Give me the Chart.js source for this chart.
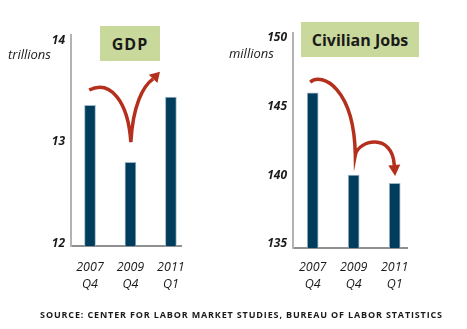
<!DOCTYPE html>
<html>
<head>
<meta charset="utf-8">
<script src="https://cdn.jsdelivr.net/npm/chart.js@4/dist/chart.umd.min.js"></script>
<style>
  html, body { margin: 0; padding: 0; background: #fff; }
  .page { position: relative; width: 467px; height: 329px; overflow: hidden; font-family: "Open Sans", sans-serif; color: #1a1a1a; }
  canvas { position: absolute; top: 0; }
  #gdpChart { left: 0; }
  #jobsChart { left: 233px; }
  .title-box { position: absolute; background: #c9d99b; font-weight: bold; font-size: 16px; display: flex; align-items: center; justify-content: center; z-index: 2; }
  .unit { position: absolute; font-style: italic; font-size: 13px; z-index: 2; }
  .source { position: absolute; left: 8px; width: 467px; top: 308px; text-align: center; font-size: 9px; font-weight: bold; letter-spacing: 0.85px; }
</style>
</head>
<body>
<div class="page">
  <canvas id="gdpChart" width="233" height="329"></canvas>
  <canvas id="jobsChart" width="234" height="329"></canvas>
  <div class="title-box" style="left:100px;top:26px;width:60px;height:35px;letter-spacing:1px;">GDP</div>
  <div class="title-box" style="left:301px;top:22px;width:118px;height:35px;">Civilian Jobs</div>
  <div class="unit" style="left:8px;top:45px;">trillions</div>
  <div class="unit" style="left:229px;top:44px;">millions</div>
  <div class="source">SOURCE: CENTER FOR LABOR MARKET STUDIES, BUREAU OF LABOR STATISTICS</div>
</div>
<script>
const periods = [["2007", "Q4"], ["2009", "Q4"], ["2011", "Q1"]];
const gdpValues = [13.36, 12.80, 13.44];
const jobsValues = [146.0, 140.0, 139.4];
const gdpTicks = [12, 13, 14];
const jobsTicks = [135, 140, 145, 150];

// arrow paths in data units: start, c1, c2, mid, c3, c4, head base, head tip
const gdpArrow = [[-0.02, 13.51], [0.49, 13.61], [0.94, 13.41], [1.01, 13.0], [1.06, 13.36], [1.31, 13.55], [1.56, 13.62], [1.73, 13.69]];
const jobsArrow = [[-0.06, 146.78], [0.23, 147.51], [1.01, 146.35], [1.04, 141.47], [1.11, 142.56], [1.94, 143.14], [1.99, 140.74], [2.01, 139.94]];

const barColor = "#003d5c";
const arrowColor = "#b5301c";
const fontFamily = "'Open Sans', sans-serif";

function makeArrowPlugin(points) {
  return {
    id: "arrow",
    afterDatasetsDraw(chart) {
      const xs = chart.scales.x;
      const ys = chart.scales.y;
      const p = points.map(([x, y]) => [xs.getPixelForValue(x), ys.getPixelForValue(y)]);
      const ctx = chart.ctx;
      ctx.save();
      ctx.strokeStyle = arrowColor;
      ctx.fillStyle = arrowColor;
      ctx.lineWidth = 3.5;
      ctx.lineCap = "butt";
      ctx.beginPath();
      ctx.moveTo(p[0][0], p[0][1]);
      ctx.bezierCurveTo(p[1][0], p[1][1], p[2][0], p[2][1], p[3][0], p[3][1]);
      ctx.bezierCurveTo(p[4][0], p[4][1], p[5][0], p[5][1], p[6][0], p[6][1]);
      ctx.stroke();

      // arrow head
      const base = p[6];
      const tip = p[7];
      const dx = tip[0] - base[0];
      const dy = tip[1] - base[1];
      const len = Math.hypot(dx, dy);
      const nx = -dy / len;
      const ny = dx / len;
      const half = 6;
      ctx.beginPath();
      ctx.moveTo(tip[0], tip[1]);
      ctx.lineTo(base[0] + nx * half, base[1] + ny * half);
      ctx.lineTo(base[0] - nx * half, base[1] - ny * half);
      ctx.closePath();
      ctx.fill();
      ctx.restore();
    }
  };
}

function buildChart(canvasId, values, ticks, range, frame, arrow) {
  return new Chart(document.getElementById(canvasId), {
    type: "bar",
    data: {
      datasets: [{
        data: values.map((v, i) => ({ x: i, y: v })),
        backgroundColor: barColor,
        borderColor: "#9fb6c6",
        borderWidth: { left: 1, right: 1, top: 1, bottom: 0 },
        barThickness: 11,
        base: range.yMin
      }]
    },
    options: {
      responsive: false,
      animation: false,
      events: [],
      layout: { padding: { left: 0, right: frame.right, top: frame.top, bottom: 0 } },
      plugins: { legend: { display: false }, tooltip: { enabled: false } },
      scales: {
        x: {
          type: "linear",
          offset: false,
          min: range.xMin,
          max: range.xMax,
          grid: { offset: false, drawOnChartArea: false, drawTicks: false },
          border: { display: true, color: "#8f8f8f", width: 2 },
          afterBuildTicks(scale) {
            scale.ticks = periods.map((p, i) => ({ value: i }));
          },
          afterFit(scale) {
            scale.height = frame.xHeight;
          },
          ticks: {
            padding: frame.xPad,
            autoSkip: false,
            maxRotation: 0,
            color: "#1a1a1a",
            font: { family: fontFamily, style: "italic", size: 12.5, lineHeight: 1.35 },
            callback: (value) => periods[value]
          }
        },
        y: {
          min: range.yMin,
          max: range.yMax,
          grid: { drawOnChartArea: false, drawTicks: false },
          border: { display: true, color: "#b3b3b3", width: 2 },
          afterBuildTicks(scale) {
            scale.ticks = ticks.map((v) => ({ value: v }));
          },
          afterFit(scale) {
            scale.width = frame.yWidth;
          },
          ticks: {
            padding: 6,
            color: "#1a1a1a",
            font: { family: fontFamily, style: "italic", weight: "bold", size: 12 }
          }
        }
      }
    },
    plugins: [makeArrowPlugin(arrow)]
  });
}

buildChart("gdpChart", gdpValues, gdpTicks,
  { xMin: -0.47, xMax: 2.25, yMin: 11.98, yMax: 14.05 },
  { right: 52, top: 35, xHeight: 83, yWidth: 71, xPad: 13 },
  gdpArrow);

buildChart("jobsChart", jobsValues, jobsTicks,
  { xMin: -0.48, xMax: 2.3, yMin: 134.7, yMax: 150.35 },
  { right: 60, top: 33, xHeight: 81, yWidth: 60, xPad: 11 },
  jobsArrow);
</script>
</body>
</html>
